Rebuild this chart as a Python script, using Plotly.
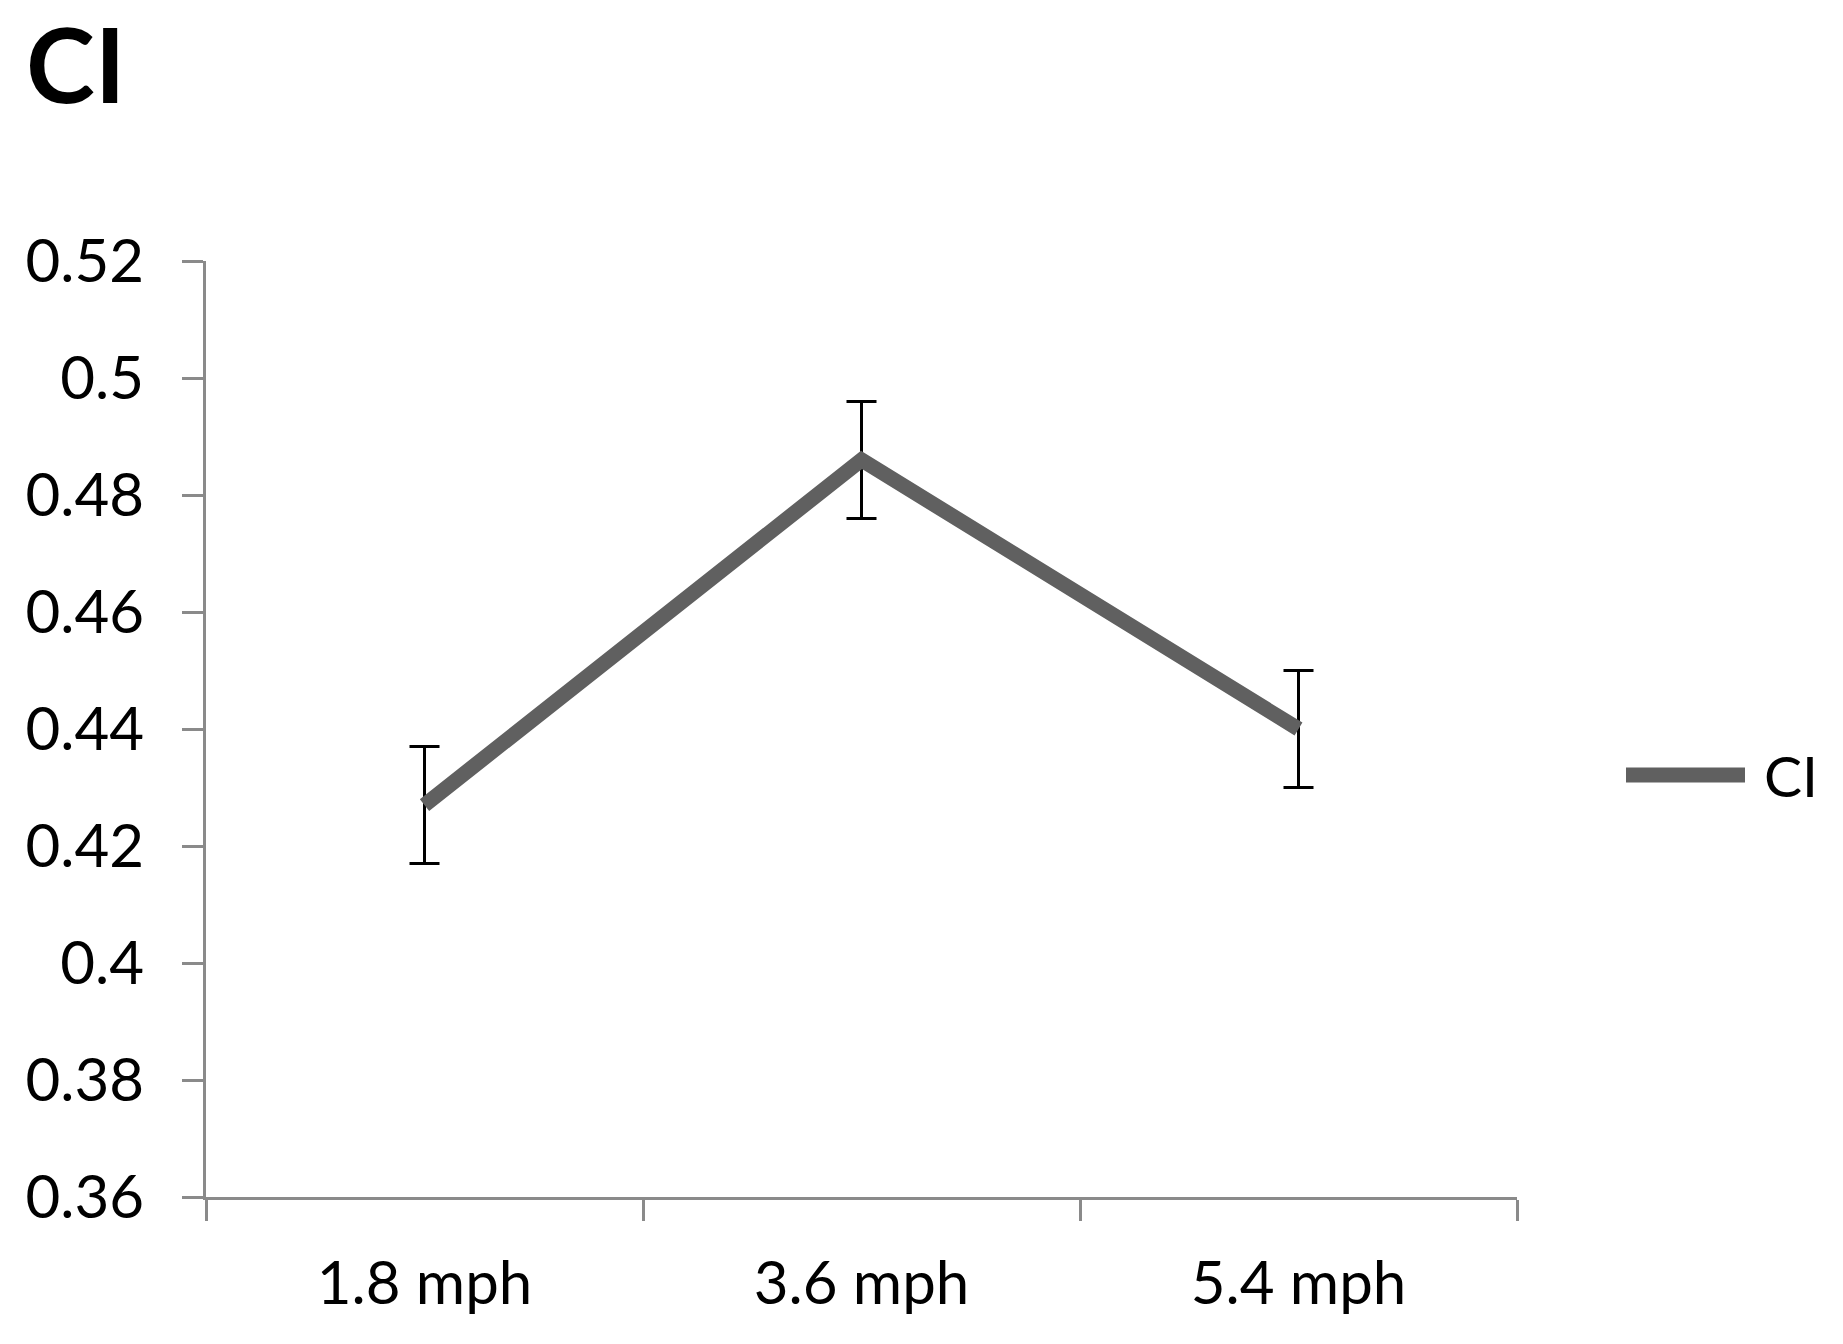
import plotly.graph_objects as go

# values
speeds = ["1.8 mph", "3.6 mph", "5.4 mph"]
ci_mean = [0.427, 0.486, 0.440]
ci_err = [0.010, 0.010, 0.010]
y_ticks = [0.36, 0.38, 0.40, 0.42, 0.44, 0.46, 0.48, 0.50, 0.52]
y_labels = ["0.36", "0.38", "0.4", "0.42", "0.44", "0.46", "0.48", "0.5", "0.52"]

# the page body has an 8px margin, so the figure is drawn 8px smaller/shifted
OFF = 8
W, H = 1843 - OFF, 1344 - OFF
L, T = 206 - OFF, 261 - OFF
R = W - L - 1311
B = H - T - 936
FONT = "Lato, 'Open Sans', sans-serif"
AXIS_GREY = "#8a8a8a"
LINE_GREY = "#606060"

fig = go.Figure()
fig.add_trace(
    go.Scatter(
        x=speeds,
        y=ci_mean,
        mode="lines",
        name="CI",
        line=dict(color=LINE_GREY, width=15),
        error_y=dict(type="data", array=ci_err, visible=True,
                     color="black", thickness=3, width=15),
        showlegend=False,
    )
)

pw, ph = W - L - R, H - T - B

# legend drawn by hand so the swatch is as long as the original
leg_y = (H - B - (775 - OFF)) / ph
fig.add_shape(
    type="line", xref="paper", yref="paper",
    x0=(1626 - OFF - L) / pw, x1=(1745 - OFF - L) / pw, y0=leg_y, y1=leg_y,
    line=dict(color=LINE_GREY, width=15),
)
fig.add_annotation(
    text="CI", xref="paper", yref="paper",
    x=(1762 - OFF - L) / pw, y=leg_y, xanchor="left", yanchor="middle",
    showarrow=False, font=dict(family=FONT, size=57, color="black"),
)

# chart title, top-left
fig.add_annotation(
    text="<b>CI</b>", xref="paper", yref="paper",
    x=(16 - L) / pw, y=1 + (T + 10) / ph, xanchor="left", yanchor="top",
    showarrow=False, font=dict(family=FONT, size=104, color="black"),
)

fig.update_layout(
    width=W,
    height=H,
    margin=dict(l=L, r=R, t=T, b=B),
    paper_bgcolor="white",
    plot_bgcolor="white",
    font=dict(family=FONT, size=60, color="black"),
    xaxis=dict(
        type="category",
        range=[-0.5, 2.5],
        tickson="boundaries",
        ticks="outside",
        ticklen=21,
        tickwidth=3,
        tickcolor=AXIS_GREY,
        showline=True,
        linecolor=AXIS_GREY,
        linewidth=3,
        showgrid=False,
        ticklabelstandoff=32,
    ),
    yaxis=dict(
        range=[0.36, 0.52],
        tickvals=y_ticks,
        ticktext=y_labels,
        ticks="outside",
        ticklen=21,
        tickwidth=3,
        tickcolor=AXIS_GREY,
        showline=True,
        linecolor=AXIS_GREY,
        linewidth=3,
        showgrid=False,
        zeroline=False,
        ticklabelstandoff=26,
    ),
)

fig.write_html("out.html")
